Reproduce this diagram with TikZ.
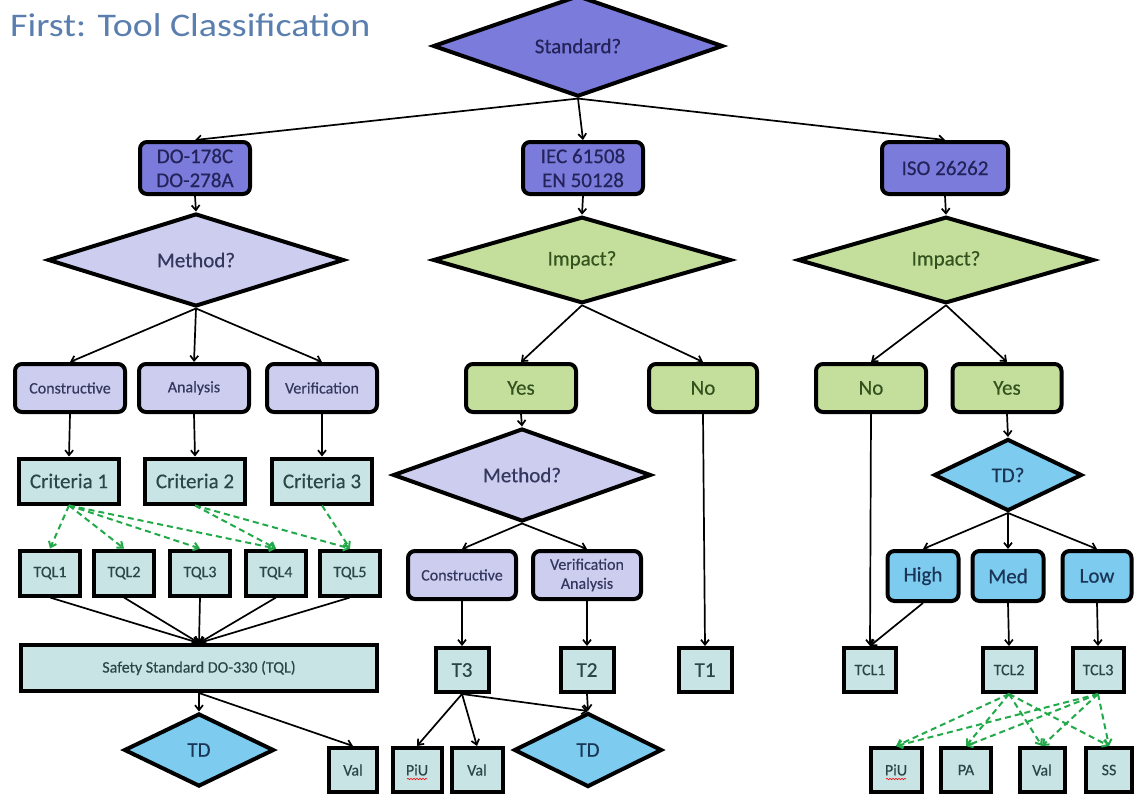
\documentclass[tikz,border=0pt]{standalone}
\usepackage{fontspec}
\setmainfont{Carlito}[FakeBold=0.4]
\newfontfamily\titlefont[FakeStretch=1.15]{Carlito}
\usetikzlibrary{shapes.geometric,arrows.meta,decorations.pathmorphing}
\definecolor{stdblue}{HTML}{7B7BDB}
\definecolor{lav}{HTML}{CDCDEF}
\definecolor{lgreen}{HTML}{C3DF9B}
\definecolor{pale}{HTML}{C8E4E4}
\definecolor{sky}{HTML}{7DCBEF}
\definecolor{titleblue}{HTML}{5A7FAF}
\definecolor{dgreen}{HTML}{22AA4A}
\definecolor{navytext}{HTML}{23235A}
\definecolor{lavtext}{HTML}{34375E}
\definecolor{greentext}{HTML}{34521E}
\definecolor{tealtext}{HTML}{2A4748}
\definecolor{bluetext}{HTML}{1A3556}
\begin{document}
\begin{tikzpicture}[x=1pt,y=-1pt,
  box/.style={draw=black, line width=4pt, inner sep=0pt, align=center, rectangle},
  rbox/.style={box, rounded corners=7pt},
  dia/.style={draw=black, line width=4pt, diamond, inner sep=0pt, align=center},
  big/.style={font=\fontsize{21}{24}\selectfont},
  small/.style={font=\fontsize{16}{19}\selectfont},
  stdn/.style={fill=stdblue, text=navytext},
  lavn/.style={fill=lav, text=lavtext},
  grn/.style={fill=lgreen, text=greentext},
  paln/.style={fill=pale, text=tealtext},
  skyn/.style={fill=sky, text=bluetext},
  conn/.style={draw=black, line width=1.7pt, -{Straight Barb[length=5pt,width=8pt]}},
  gconn/.style={draw=dgreen, line width=2pt, dash pattern=on 6pt off 4pt, -{Straight Barb[length=5pt,width=8pt]}}
]
\useasboundingbox[fill=white] (0,0) rectangle (1135,793);

\node[anchor=west, text=titleblue, inner sep=0pt, font=\titlefont\fontsize{33}{36}\selectfont] (title) at (10,25) {First: Tool Classification};

% top
\node[dia, stdn, big, minimum width=290, minimum height=78] (std) at (578,46) {Standard?};
\node[rbox, stdn, big, minimum width=110, minimum height=52] (do) at (195,168) {DO-178C\\DO-278A};
\node[rbox, stdn, big, minimum width=120, minimum height=52] (iec) at (583,168) {IEC 61508\\EN 50128};
\node[rbox, stdn, big, minimum width=126, minimum height=52] (iso) at (945,168) {ISO 26262};

% left column
\node[dia, lavn, big, minimum width=296, minimum height=75] (meth1) at (196,260) {Method?};
\node[rbox, lavn, small, minimum width=110, minimum height=48] (con1) at (70,388) {Constructive};
\node[rbox, lavn, small, minimum width=110, minimum height=48] (ana1) at (194,388) {Analysis};
\node[rbox, lavn, small, minimum width=110, minimum height=48] (ver1) at (322,388) {Verification};
\node[box, paln, big, minimum width=100, minimum height=45] (cr1) at (69,481) {Criteria 1};
\node[box, paln, big, minimum width=100, minimum height=45] (cr2) at (195,481) {Criteria 2};
\node[box, paln, big, minimum width=100, minimum height=45] (cr3) at (322,481) {Criteria 3};
\node[box, paln, small, minimum width=60, minimum height=45] (tql1) at (50,573) {TQL1};
\node[box, paln, small, minimum width=60, minimum height=45] (tql2) at (124,573) {TQL2};
\node[box, paln, small, minimum width=60, minimum height=45] (tql3) at (200,573) {TQL3};
\node[box, paln, small, minimum width=60, minimum height=45] (tql4) at (276,573) {TQL4};
\node[box, paln, small, minimum width=60, minimum height=45] (tql5) at (350,573) {TQL5};
\node[box, paln, small, minimum width=356, minimum height=46] (safety) at (199,668) {Safety Standard DO-330 (TQL)};
\node[dia, skyn, big, minimum width=150, minimum height=73] (td1) at (199,750) {TD};
\node[box, paln, small, minimum width=48, minimum height=44] (val1) at (353,770) {Val};

% middle column
\node[dia, grn, big, minimum width=298, minimum height=74] (imp2) at (582,260) {Impact?};
\node[rbox, grn, big, minimum width=110, minimum height=48] (yes2) at (521,388) {Yes};
\node[rbox, grn, big, minimum width=108, minimum height=48] (no2) at (703,388) {No};
\node[dia, lavn, big, minimum width=258, minimum height=74] (meth2) at (522,475) {Method?};
\node[rbox, lavn, small, minimum width=108, minimum height=48] (con2) at (462,575) {Constructive};
\node[rbox, lavn, small, minimum width=108, minimum height=48] (va2) at (587,575) {Verification\\Analysis};
\node[box, paln, big, minimum width=53, minimum height=44] (t3) at (462,670) {T3};
\node[box, paln, big, minimum width=53, minimum height=44] (t2) at (587,670) {T2};
\node[box, paln, big, minimum width=53, minimum height=44] (t1) at (705,670) {T1};
\node[box, paln, small, minimum width=49, minimum height=44] (piu2) at (417,770) {PiU};
\node[box, paln, small, minimum width=51, minimum height=44] (val2) at (477,770) {Val};
\node[dia, skyn, big, minimum width=148, minimum height=74] (td2) at (588,750) {TD};

% right column
\node[dia, grn, big, minimum width=296, minimum height=74] (imp3) at (946,260) {Impact?};
\node[rbox, grn, big, minimum width=110, minimum height=48] (no3) at (871,388) {No};
\node[rbox, grn, big, minimum width=109, minimum height=48] (yes3) at (1007,388) {Yes};
\node[dia, skyn, big, minimum width=148, minimum height=72] (tdq) at (1008,475) {TD?};
\node[rbox, skyn, big, minimum width=71, minimum height=50] (high) at (923,576) {High};
\node[rbox, skyn, big, minimum width=71, minimum height=50] (med) at (1008,576) {Med};
\node[rbox, skyn, big, minimum width=69, minimum height=50] (low) at (1097,576) {Low};
\node[box, paln, small, minimum width=52, minimum height=44] (tcl1) at (870,670) {TCL1};
\node[box, paln, small, minimum width=53, minimum height=44] (tcl2) at (1009,670) {TCL2};
\node[box, paln, small, minimum width=51, minimum height=44] (tcl3) at (1098,670) {TCL3};
\node[box, paln, small, minimum width=51, minimum height=44] (piu3) at (896,770) {PiU};
\node[box, paln, small, minimum width=50, minimum height=44] (pa3) at (966,770) {PA};
\node[box, paln, small, minimum width=45, minimum height=44] (val3) at (1042,770) {Val};
\node[box, paln, small, minimum width=46, minimum height=44] (ss3) at (1109,770) {SS};

% spell-check squiggles under PiU
\draw[red, line width=0.6pt, decorate, decoration={snake, amplitude=0.7pt, segment length=3pt}]
  ([xshift=-10pt,yshift=-9pt]piu2.center) -- ([xshift=10pt,yshift=-9pt]piu2.center);
\draw[red, line width=0.6pt, decorate, decoration={snake, amplitude=0.7pt, segment length=3pt}]
  ([xshift=-10pt,yshift=-9pt]piu3.center) -- ([xshift=10pt,yshift=-9pt]piu3.center);

% connectors top
\draw[conn] (std.south) -- (do.north);
\draw[conn] (std.south) -- (iec.north);
\draw[conn] (std.south) -- (iso.north);

% left
\draw[conn] (do.south) -- (meth1.north);
\draw[conn] (meth1.south) -- (con1.north);
\draw[conn] (meth1.south) -- (ana1.north);
\draw[conn] (meth1.south) -- (ver1.north);
\draw[conn] (con1.south) -- (cr1.north);
\draw[conn] (ana1.south) -- (cr2.north);
\draw[conn] (ver1.south) -- (cr3.north);
\draw[gconn] (cr1.south) -- (tql1.north);
\draw[gconn] (cr1.south) -- (tql2.north);
\draw[gconn] (cr1.south) -- (tql3.north);
\draw[gconn] (cr1.south) -- (tql4.north);
\draw[gconn] (cr2.south) -- (tql4.north);
\draw[gconn] (cr2.south) -- (tql5.north);
\draw[gconn] (cr3.south) -- (tql5.north);
\foreach \t in {tql1,tql2,tql3,tql4,tql5} \draw[conn] (\t.south) -- (safety.north);
\draw[conn] (safety.south) -- (td1.north);
\draw[conn] (safety.south) -- (val1.north);

% middle
\draw[conn] (iec.south) -- (imp2.north);
\draw[conn] (imp2.south) -- (yes2.north);
\draw[conn] (imp2.south) -- (no2.north);
\draw[conn] (yes2.south) -- (meth2.north);
\draw[conn] (no2.south) -- (t1.north);
\draw[conn] (meth2.south) -- (con2.north);
\draw[conn] (meth2.south) -- (va2.north);
\draw[conn] (con2.south) -- (t3.north);
\draw[conn] (va2.south) -- (t2.north);
\draw[conn] (t3.south) -- (piu2.north);
\draw[conn] (t3.south) -- (val2.north);
\draw[conn] (t3.south) -- (td2.north);
\draw[conn] (t2.south) -- (td2.north);

% right
\draw[conn] (iso.south) -- (imp3.north);
\draw[conn] (imp3.south) -- (no3.north);
\draw[conn] (imp3.south) -- (yes3.north);
\draw[conn] (yes3.south) -- (tdq.north);
\draw[conn] (tdq.south) -- (high.north);
\draw[conn] (tdq.south) -- (med.north);
\draw[conn] (tdq.south) -- (low.north);
\draw[conn] (no3.south) -- (tcl1.north);
\draw[conn] (high.south) -- (tcl1.north);
\draw[conn] (med.south) -- (tcl2.north);
\draw[conn] (low.south) -- (tcl3.north);
\foreach \t in {piu3,pa3,val3,ss3} {
  \draw[gconn] (tcl2.south) -- (\t.north);
  \draw[gconn] (tcl3.south) -- (\t.north);
}
\end{tikzpicture}
\end{document}
